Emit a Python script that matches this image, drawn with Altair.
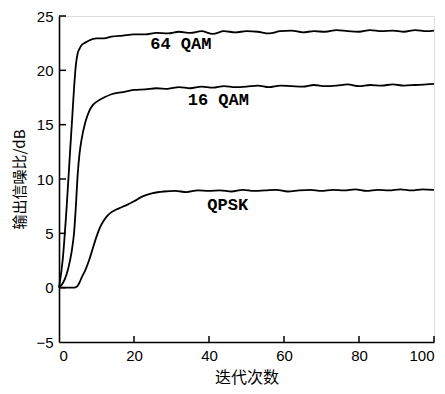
import altair as alt
import pandas as pd

# ---- data ----
x_64 = [0, 1, 2, 3, 3.5, 4, 4.5, 5, 5.5, 6, 7, 8, 10, 12, 14, 17, 20, 23, 26, 29, 32, 35,
        38, 41, 44, 47, 50, 53, 56, 59, 62, 65, 68, 71, 74, 77, 80, 83, 86, 89, 92, 95, 98, 100]
y_64 = [0, 2.6, 7.2, 12.8, 15.5, 18.3, 20.5, 21.6, 22.0, 22.3, 22.55, 22.75, 22.95, 22.95, 23.1, 23.2, 23.3,
        23.3, 23.45, 23.4, 23.55, 23.45, 23.6, 23.35, 23.6, 23.5, 23.6, 23.55, 23.4, 23.6, 23.65, 23.5,
        23.6, 23.55, 23.7, 23.6, 23.55, 23.7, 23.6, 23.65, 23.55, 23.7, 23.6, 23.65]

x_16 = [0, 1, 2, 3, 3.5, 4, 4.5, 5, 5.5, 6, 7, 8, 9, 10, 12, 14, 17, 20, 23, 26, 29, 32, 35,
        38, 41, 44, 47, 50, 53, 56, 59, 62, 65, 68, 71, 74, 77, 80, 83, 86, 89, 92, 95, 98, 100]
y_16 = [0, 0.4, 1.2, 2.6, 3.6, 5.0, 7.5, 10.5, 12.4, 13.6, 15.2, 16.2, 16.8, 17.1, 17.5, 17.8, 18.0, 18.2,
        18.25, 18.35, 18.3, 18.45, 18.35, 18.5, 18.4, 18.55, 18.45, 18.5, 18.6, 18.45, 18.6, 18.55,
        18.5, 18.65, 18.55, 18.6, 18.7, 18.55, 18.65, 18.6, 18.7, 18.6, 18.65, 18.7, 18.75]

x_qp = [0, 2, 4, 4.8, 5.5, 6, 7, 8, 9, 10, 11, 12, 13, 14, 15, 16, 17, 18, 20, 22, 25, 28, 31,
        34, 37, 40, 43, 46, 49, 52, 55, 58, 61, 64, 67, 70, 73, 76, 79, 82, 85, 88, 91, 94, 97, 100]
y_qp = [0, 0, 0, 0.1, 0.5, 0.9, 1.6, 2.5, 3.6, 4.7, 5.6, 6.2, 6.65, 6.95, 7.15, 7.3, 7.45, 7.6, 7.95, 8.35,
        8.7, 8.85, 8.9, 8.8, 8.95, 8.9, 8.95, 8.85, 9.0, 8.9, 8.95, 9.0, 8.85, 8.95, 9.0, 8.9, 9.0,
        8.95, 9.05, 8.9, 9.0, 8.95, 9.05, 8.95, 9.05, 9.0]

label_text = ["64 QAM", "16 QAM", "QPSK"]
label_x = [32.5, 42.5, 45]
label_y = [22.4, 17.3, 7.6]

y_ticks = [0, 5, 10, 15, 20, 25]
x_ticks = [20, 40, 60, 80, 100]

rows = []
for name, xs, ys in [("64 QAM", x_64, y_64), ("16 QAM", x_16, y_16), ("QPSK", x_qp, y_qp)]:
    for a, b in zip(xs, ys):
        rows.append({"series": name, "x": a, "y": b})
df = pd.DataFrame(rows)
labels = pd.DataFrame({"t": label_text, "x": label_x, "y": label_y})

W, H = 375, 326
xs = alt.Scale(domain=[0, 100], nice=False)
ys = alt.Scale(domain=[-5, 25], nice=False)

lines = alt.Chart(df).mark_line(color="black", strokeWidth=1.8, interpolate="monotone").encode(
    x=alt.X("x:Q", scale=xs, axis=alt.Axis(
        title="迭代次数", values=[0, 20, 40, 60, 80, 100], tickSize=0, labelPadding=6,
        labelFont="Liberation Sans", labelFontSize=15, labelColor="black",
        titleFont="Noto Sans CJK SC", titleFontSize=16, titleColor="black", titleFontWeight="normal",
        titlePadding=6, domainColor="black", domainWidth=1.6, grid=False)),
    y=alt.Y("y:Q", scale=ys, axis=alt.Axis(
        title="输出信噪比/dB", values=[-5, 0, 5, 10, 15, 20, 25], tickSize=0, labelPadding=6,
        labelFont="Liberation Sans", labelFontSize=15, labelColor="black",
        titleFont="Noto Sans CJK SC", titleFontSize=15, titleColor="black", titleFontWeight="normal",
        titlePadding=8, domainColor="black", domainWidth=1.6, grid=False)),
    detail="series:N",
)

text = alt.Chart(labels).mark_text(font="Liberation Mono", fontWeight="bold", fontSize=17,
                                   color="black").encode(x=alt.X("x:Q", scale=xs), y=alt.Y("y:Q", scale=ys), text="t:N")

yt = alt.Chart(pd.DataFrame({"v": y_ticks})).mark_rule(color="black", strokeWidth=1.5).encode(
    y=alt.Y("v:Q", scale=ys), x=alt.value(0), x2=alt.value(7))
xt = alt.Chart(pd.DataFrame({"v": x_ticks})).mark_rule(color="black", strokeWidth=1.5).encode(
    x=alt.X("v:Q", scale=xs), y=alt.value(H), y2=alt.value(H - 6))

chart = alt.layer(lines, text, yt, xt).properties(
    width=W, height=H,
    autosize=alt.AutoSizeParams(type="none"),
    padding={"left": 51, "top": 8, "right": 3, "bottom": 44},
).configure_view(stroke=None).configure(background="white")

chart.save("out.html", embed_options={"renderer": "svg", "actions": False})
